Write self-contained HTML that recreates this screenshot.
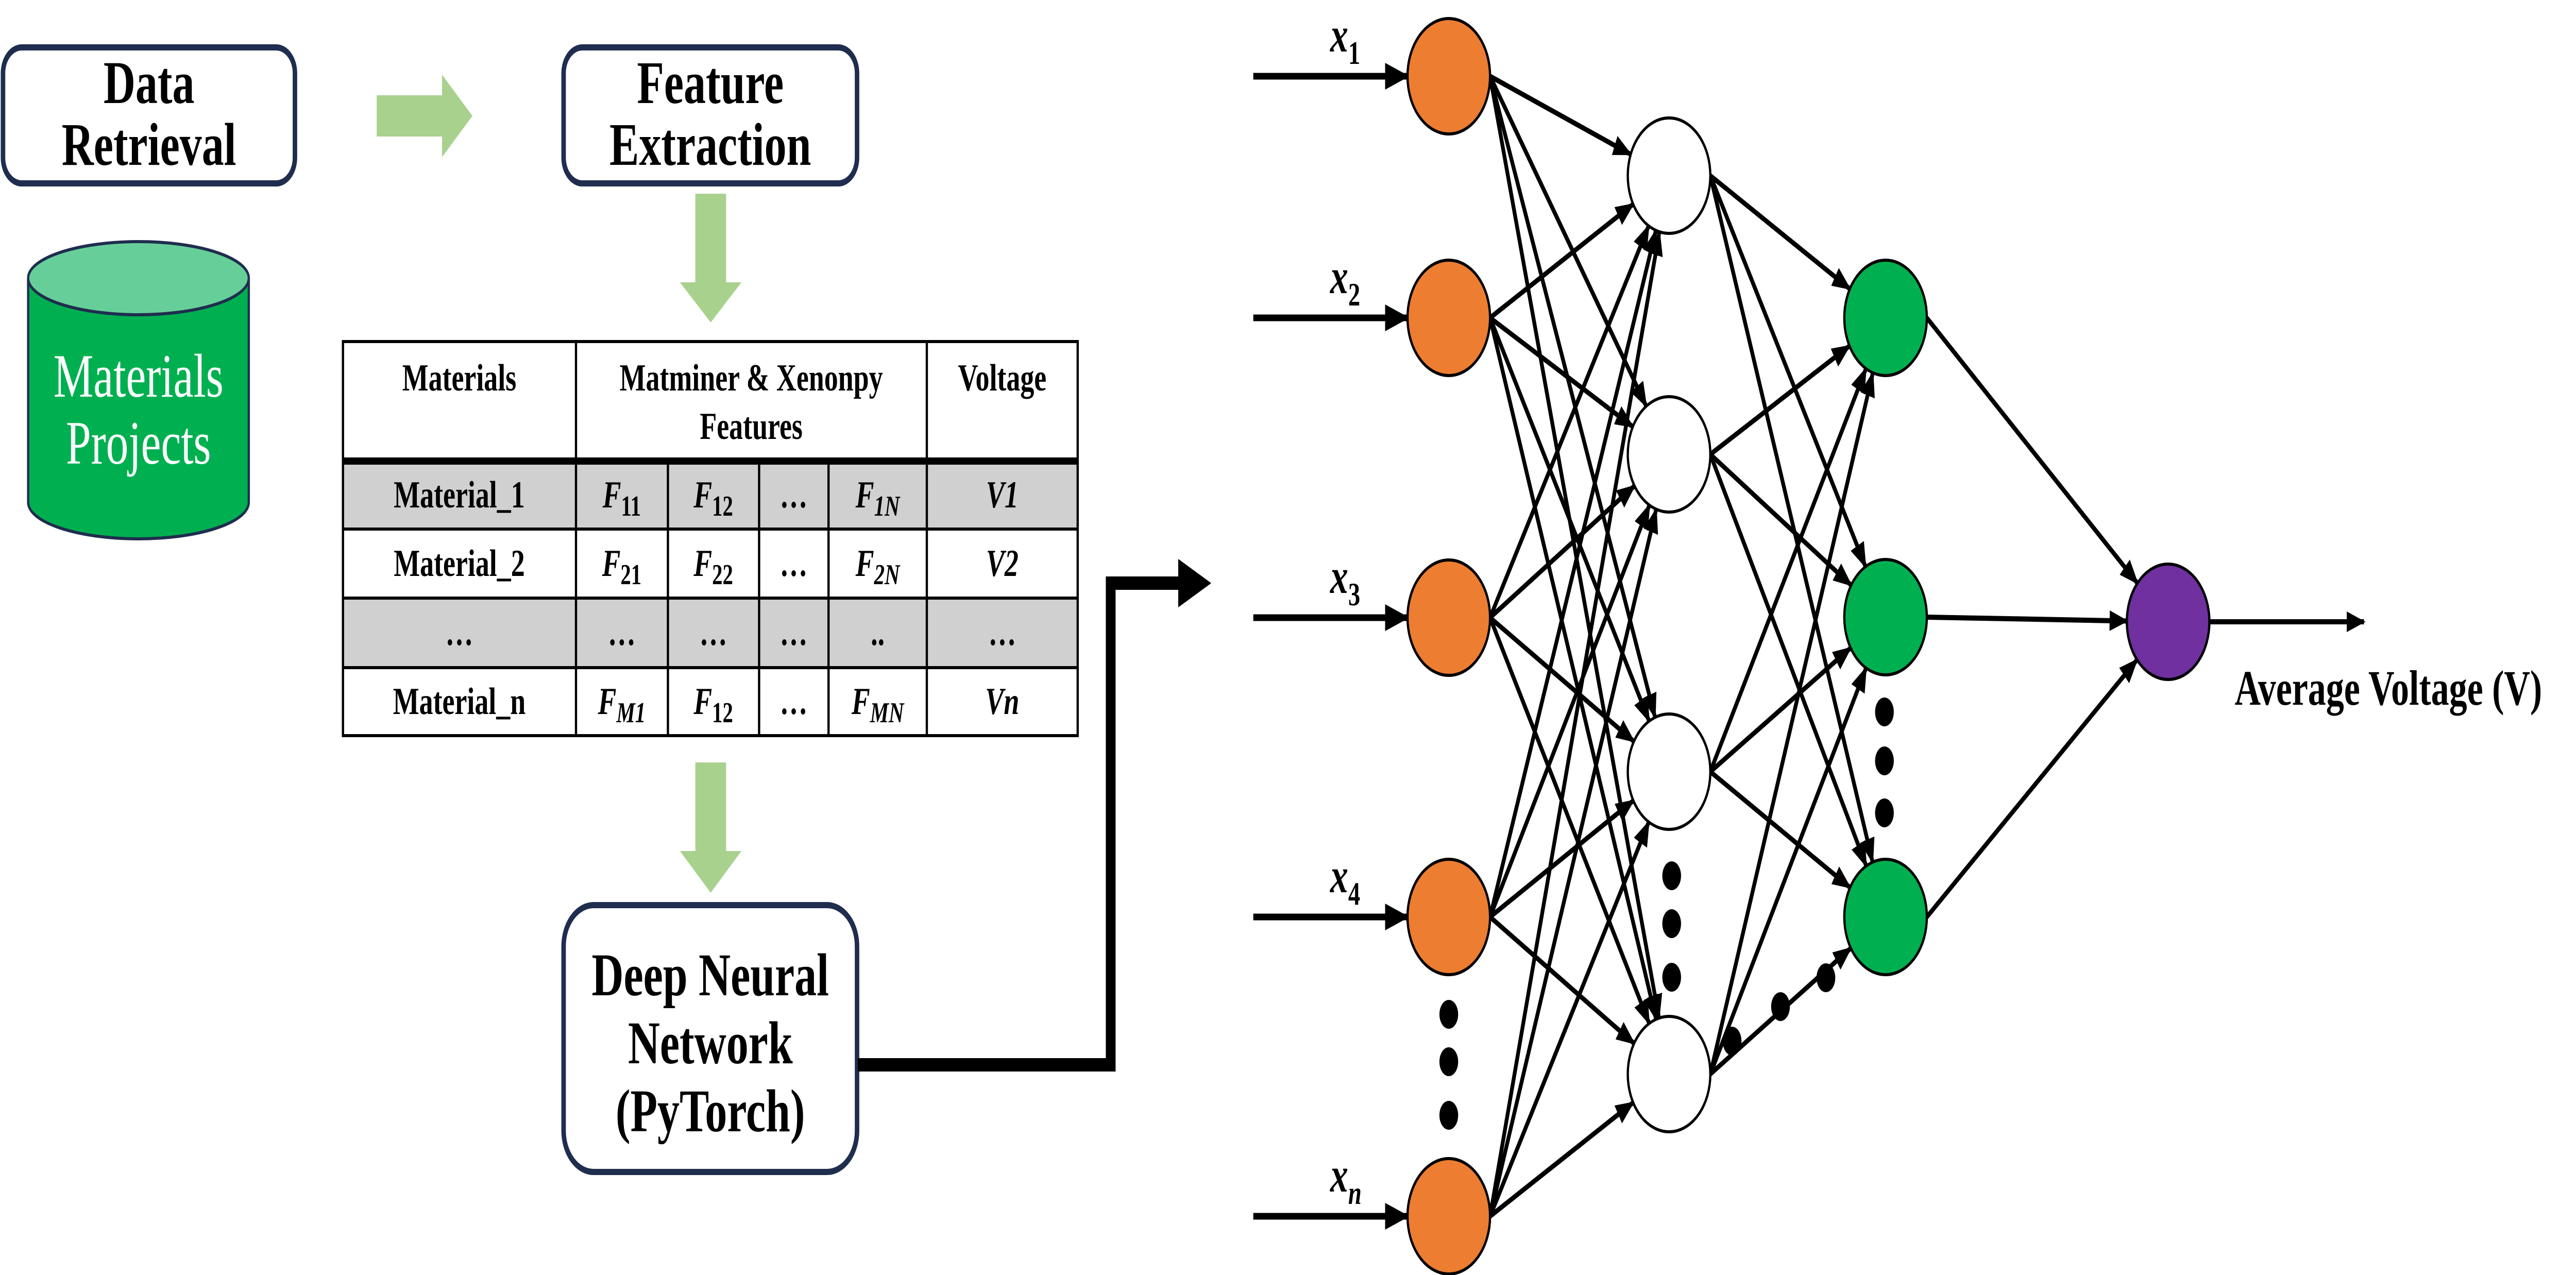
<!DOCTYPE html>
<html><head><meta charset="utf-8"><style>
html,body{margin:0;padding:0;background:#fff;overflow:hidden;width:100%;height:100%}
svg{display:block;width:100vw;height:100vh}
text{font-family:"Liberation Serif",serif;font-weight:bold}
</style></head><body>
<svg id="s" viewBox="0 0 6865 2475" preserveAspectRatio="none" xmlns="http://www.w3.org/2000/svg">
<defs>
<marker id="ah" markerWidth="5" markerHeight="4" refX="4.6" refY="2" orient="auto" markerUnits="strokeWidth">
<path d="M0,0 L5,2 L0,4 Z" fill="#000"/></marker>
</defs>
<rect x="8" y="92" width="778" height="264" rx="50" fill="#fff" stroke="#1f2d4e" stroke-width="12"/>
<text x="397" y="200" font-size="118" text-anchor="middle">Data</text>
<text x="397" y="320" font-size="118" text-anchor="middle">Retrieval</text>
<rect x="1502" y="92" width="782" height="264" rx="50" fill="#fff" stroke="#1f2d4e" stroke-width="12"/>
<text x="1893" y="200" font-size="118" text-anchor="middle">Feature</text>
<text x="1893" y="320" font-size="118" text-anchor="middle">Extraction</text>
<polygon points="1004,185 1178,185 1178,145 1259,225 1178,305 1178,265 1004,265" fill="#a9d18e"/>
<polygon points="1853,376 1935,376 1935,548 1976,548 1894,626 1812,548 1853,548" fill="#a9d18e"/>
<polygon points="1853,1480 1935,1480 1935,1652 1976,1652 1894,1733 1812,1652 1853,1652" fill="#a9d18e"/>
<path d="M75,540 L75,975 A294,71 0 0 0 663,975 L663,540" fill="#00b050" stroke="#1f2d4e" stroke-width="6"/>
<ellipse cx="369" cy="540" rx="294" ry="71" fill="#66cf99" stroke="#1f2d4e" stroke-width="6"/>
<text x="369" y="770" font-size="120" style="font-weight:normal" fill="#fff" text-anchor="middle">Materials</text>
<text x="369" y="900" font-size="120" style="font-weight:normal" fill="#fff" text-anchor="middle">Projects</text>
<rect x="914" y="895" width="1958" height="132" fill="#d0d0d0"/>
<rect x="914" y="1161" width="1958" height="135" fill="#d0d0d0"/>
<g stroke="#000" stroke-width="6" fill="none">
<rect x="914" y="663" width="1958" height="765"/>
<line x1="914" y1="1027" x2="2872" y2="1027"/>
<line x1="914" y1="1161" x2="2872" y2="1161"/>
<line x1="914" y1="1296" x2="2872" y2="1296"/>
<line x1="1535" y1="663" x2="1535" y2="1428"/>
<line x1="2470" y1="663" x2="2470" y2="1428"/>
<line x1="1780" y1="895" x2="1780" y2="1428"/>
<line x1="2023" y1="895" x2="2023" y2="1428"/>
<line x1="2208" y1="895" x2="2208" y2="1428"/>
</g>
<line x1="914" y1="895" x2="2872" y2="895" stroke="#000" stroke-width="14"/>
<g font-size="74" text-anchor="middle">
<text x="1224" y="758">Materials</text>
<text x="2002" y="758">Matminer &amp; Xenonpy</text>
<text x="2002" y="852">Features</text>
<text x="2671" y="758">Voltage</text>
<text x="1224" y="985">Material_1</text>
<text x="1224" y="1118">Material_2</text>
<text x="1224" y="1252">…</text>
<text x="1224" y="1386">Material_n</text>
<text x="1657" y="1252">…</text><text x="1901" y="1252">…</text><text x="2115" y="1252">…</text><text x="2339" y="1252">..</text><text x="2671" y="1252">…</text>
<text x="2115" y="985">…</text><text x="2115" y="1118">…</text><text x="2115" y="1386">…</text>
<g font-style="italic">
<text x="2671" y="985">V1</text><text x="2671" y="1118">V2</text><text x="2671" y="1386">Vn</text>
<text x="1657" y="985">F<tspan font-size="56" dy="16" font-style="normal">11</tspan></text>
<text x="1901" y="985">F<tspan font-size="56" dy="16" font-style="normal">12</tspan></text>
<text x="2339" y="985">F<tspan font-size="56" dy="16">1N</tspan></text>
<text x="1657" y="1118">F<tspan font-size="56" dy="16" font-style="normal">21</tspan></text>
<text x="1901" y="1118">F<tspan font-size="56" dy="16" font-style="normal">22</tspan></text>
<text x="2339" y="1118">F<tspan font-size="56" dy="16">2N</tspan></text>
<text x="1657" y="1386">F<tspan font-size="56" dy="16">M1</tspan></text>
<text x="1901" y="1386">F<tspan font-size="56" dy="16" font-style="normal">12</tspan></text>
<text x="2339" y="1386">F<tspan font-size="56" dy="16">MN</tspan></text>
</g>
</g>
<rect x="1502" y="1757" width="782" height="518" rx="80" fill="#fff" stroke="#1f2d4e" stroke-width="12"/>
<g font-size="118" text-anchor="middle">
<text x="1893" y="1932">Deep Neural</text>
<text x="1893" y="2064">Network</text>
<text x="1893" y="2196">(PyTorch)</text>
</g>
<polyline points="2286,2067 2960,2067 2960,1132 3150,1132" fill="none" stroke="#000" stroke-width="26"/>
<polygon points="3140,1085 3228,1132 3140,1179" fill="#000"/>
<g id="net"></g>
<text x="6365" y="1368" font-size="96" text-anchor="middle">Average Voltage (V)</text>
</svg>
<script>
var NS="http://www.w3.org/2000/svg",g=document.getElementById("net");
function el(n,a){var e=document.createElementNS(NS,n);for(var k in a)e.setAttribute(k,a[k]);g.appendChild(e);return e;}
var R=110,RY=112;
var inp=[148,617,1199,1780,2361].map(function(y){return [3861,y]});
var hid=[341,882,1498,2085].map(function(y){return [4448,y]});
var grn=[617,1198,1780].map(function(y){return [5025,y]});
var pur=[[5778,1207]];
function conn(A,B){A.forEach(function(a){B.forEach(function(b){
 var sx=a[0]+R,sy=a[1];var dx=b[0]-sx,dy=b[1]-sy;
 var lo=0,hi=1;for(var i=0;i<40;i++){var m=(lo+hi)/2;var px=sx+dx*m,py=sy+dy*m;var v=((px-b[0])/R)*((px-b[0])/R)+((py-b[1])/RY)*((py-b[1])/RY);if(v<1)hi=m;else lo=m;}
 el("line",{x1:sx,y1:sy,x2:sx+dx*lo,y2:sy+dy*lo,stroke:"#000","stroke-width":10,"marker-end":"url(#ah)"});
});});}
conn(inp,hid);conn(hid,grn);conn(grn,pur);
inp.forEach(function(p,i){
 el("line",{x1:3340,y1:p[1],x2:p[0]-R,y2:p[1],stroke:"#000","stroke-width":13,"marker-end":"url(#ah)"});
 var t=el("text",{x:3545,y:p[1]-48,"font-size":"96","font-style":"italic"});
 t.textContent="x";var s=document.createElementNS(NS,"tspan");s.setAttribute("font-size","64");s.setAttribute("dy","24");s.setAttribute("font-style",i==4?"italic":"normal");s.textContent=["1","2","3","4","n"][i];t.appendChild(s);
});
el("line",{x1:5778+R,y1:1207,x2:6300,y2:1207,stroke:"#000","stroke-width":10,"marker-end":"url(#ah)"});
function node(a,f){el("ellipse",{cx:a[0],cy:a[1],rx:R,ry:RY,fill:f,stroke:"#000","stroke-width":6});}
inp.forEach(function(a){node(a,"#ed7d31")});hid.forEach(function(a){node(a,"#fff")});
grn.forEach(function(a){node(a,"#00b050")});node(pur[0],"#7030a0");
[[3861,1969],[3861,2061],[3861,2165],[4455,1700],[4455,1793],[4455,1897],[5022,1382],[5022,1477],[5022,1578],[4616,2021],[4745,1954],[4866,1898]].forEach(function(d){
 el("ellipse",{cx:d[0],cy:d[1],rx:25,ry:28,fill:"#000"});});
</script>
</body></html>
